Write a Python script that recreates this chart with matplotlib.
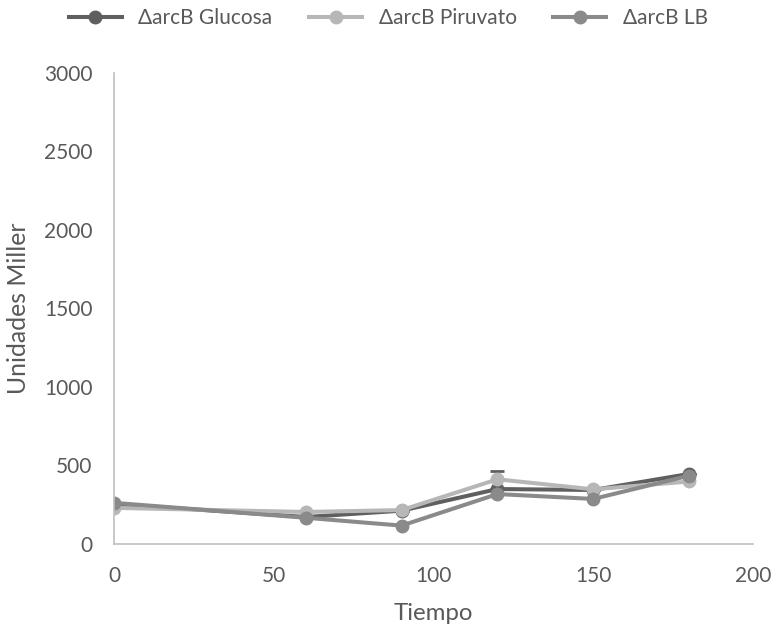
import matplotlib
matplotlib.use('Agg')
import matplotlib.pyplot as plt

# Data
tiempo = [0, 60, 90, 120, 150, 180]
glucosa = [255, 172, 212, 350, 344, 446]
piruvato = [230, 204, 216, 412, 348, 398]
lb = [262, 167, 117, 318, 287, 435]
glucosa_err = [0, 0, 0, 117, 0, 0]

series = [
    ('ΔarcB Glucosa', glucosa, glucosa_err, '#5f5f5f'),
    ('ΔarcB Piruvato', piruvato, None, '#b7b7b7'),
    ('ΔarcB LB', lb, None, '#8a8a8a'),
]

plt.rcParams['font.family'] = ['Lato', 'DejaVu Sans']
text_color = '#595959'
axis_color = '#bfbfbf'

fig = plt.figure(figsize=(7.72, 6.27), dpi=100)
ax = fig.add_axes([0.1477, 0.1324, 0.9754 - 0.1477, 0.8836 - 0.1324])

for label, values, err, color in series:
    if err is not None:
        ax.errorbar(tiempo, values, yerr=[[0] * len(err), err], fmt='none',
                    ecolor=color, elinewidth=1.5, capsize=5, capthick=2)
    ax.plot(tiempo, values, color=color, linewidth=2.9, marker='o',
            markersize=9, label=label)

ax.set_xlim(0, 200)
ax.set_ylim(0, 3000)
ax.set_xticks([0, 50, 100, 150, 200])
ax.set_yticks([0, 500, 1000, 1500, 2000, 2500, 3000])
ax.tick_params(length=0, labelsize=15, colors=text_color)
ax.tick_params(axis='y', pad=15.5)
ax.tick_params(axis='x', pad=16)

ax.set_xlabel('Tiempo', fontsize=17.3, color=text_color, labelpad=12)
ax.set_ylabel('Unidades Miller', fontsize=17.8, color=text_color, labelpad=10)

ax.spines['top'].set_visible(False)
ax.spines['right'].set_visible(False)
ax.spines['left'].set_color(axis_color)
ax.spines['bottom'].set_color(axis_color)
ax.spines['left'].set_linewidth(1.2)
ax.spines['bottom'].set_linewidth(1.2)

leg = fig.legend(loc='center', bbox_to_anchor=(0.503, 1 - 18 / 627), ncol=3,
                 frameon=False, fontsize=15, handlelength=2.55,
                 columnspacing=1.75, handletextpad=0.8, borderpad=0)
for t in leg.get_texts():
    t.set_color(text_color)

fig.savefig('out.png', dpi=100)
